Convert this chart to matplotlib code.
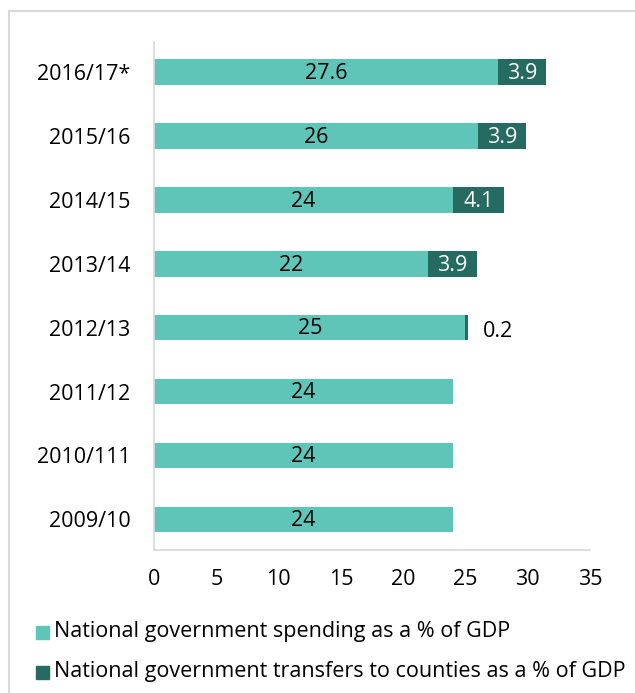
import matplotlib.pyplot as plt
from matplotlib.patches import Rectangle
from matplotlib.lines import Line2D

years = ['2009/10', '2010/111', '2011/12', '2012/13', '2013/14', '2014/15', '2015/16', '2016/17*']
spending = [24, 24, 24, 25, 22, 24, 26, 27.6]
transfers = [0, 0, 0, 0.2, 3.9, 4.1, 3.9, 3.9]
spending_labels = ['24', '24', '24', '25', '22', '24', '26', '27.6']
transfer_labels = ['', '', '', '0.2', '3.9', '4.1', '3.9', '3.9']

light = '#60c5b9'
dark = '#256b61'
plt.rcParams['font.family'] = ['Open Sans', 'DejaVu Sans']
fs = 15.5

fig = plt.figure(figsize=(6.35, 6.93), dpi=100)
ax = fig.add_axes([154 / 635, 1 - 550 / 693, (590 - 154) / 635, (550 - 42) / 693])

pos = list(range(len(years)))
ax.barh(pos, spending, height=0.4, color=light)
ax.barh(pos, transfers, left=spending, height=0.4, color=dark)

for i in pos:
    ax.text(spending[i] / 2, i - 0.02, spending_labels[i], ha='center', va='center', fontsize=fs, color='black')
    if transfer_labels[i]:
        if transfers[i] < 1:
            ax.text(spending[i] + transfers[i] + 1.2, i - 0.06, transfer_labels[i], ha='left', va='center',
                    fontsize=fs, color='black')
        else:
            ax.text(spending[i] + transfers[i] / 2, i - 0.02, transfer_labels[i], ha='center', va='center',
                    fontsize=fs, color='white')

ax.set_xlim(0, 35)
ax.set_ylim(-0.48, 7.47)
ax.set_yticks(pos)
ax.set_yticklabels(years, fontsize=fs)
ax.set_xticks(range(0, 36, 5))
ax.tick_params(axis='x', labelsize=fs, length=0, pad=14)
ax.tick_params(axis='y', length=0, pad=17)
for s in ['top', 'right']:
    ax.spines[s].set_visible(False)
ax.spines['left'].set_color('#d9d9d9')
ax.spines['bottom'].set_color('#d9d9d9')
ax.spines['left'].set_linewidth(1.2)
ax.spines['bottom'].set_linewidth(1.2)

# frame around figure (top and left visible)
fig.add_artist(Line2D([9 / 635, 9 / 635], [0, 1 - 10.5 / 693], color='#d9d9d9', lw=1.5, transform=fig.transFigure))
fig.add_artist(Line2D([9 / 635, 1], [1 - 10.5 / 693, 1 - 10.5 / 693], color='#d9d9d9', lw=1.5, transform=fig.transFigure))

legend_items = [('National government spending as a % of GDP', light, 632),
                ('National government transfers to counties as a % of GDP', dark, 672)]
for label, col, yc in legend_items:
    fig.add_artist(Rectangle((36 / 635, 1 - (yc + 6.5) / 693), 13 / 635, 13 / 693, color=col,
                             transform=fig.transFigure))
    fig.text(54 / 635, 1 - yc / 693, label, ha='left', va='center', fontsize=fs)

fig.savefig('out.png', dpi=100)
